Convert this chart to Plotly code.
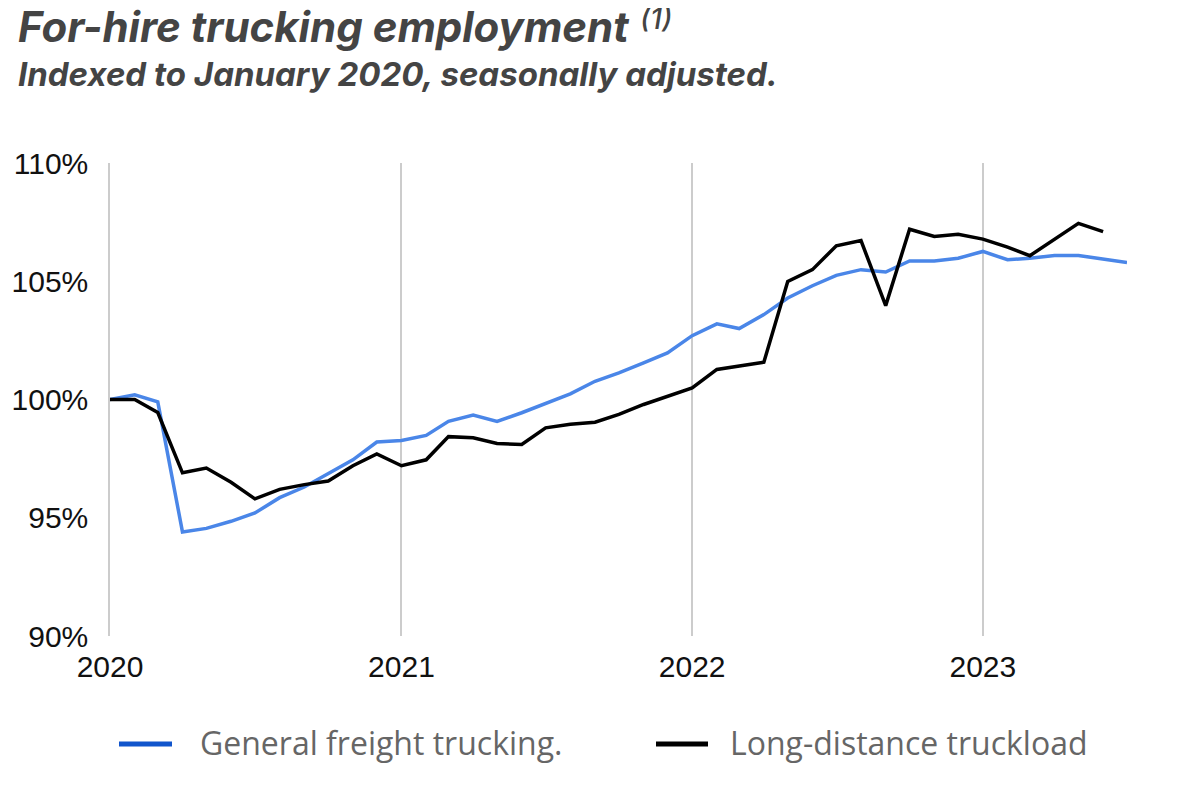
import pandas as pd
import plotly.graph_objects as go

# monthly index values, Jan 2020 = 100
general_freight = [100.0, 100.2, 99.9, 94.4, 94.55, 94.85, 95.2, 95.85, 96.3, 96.85, 97.45, 98.2,
                   98.27, 98.48, 99.08, 99.34, 99.07, 99.44, 99.83, 100.24, 100.77, 101.13, 101.55, 101.97,
                   102.7, 103.2, 103.0, 103.59, 104.29, 104.81, 105.25, 105.49, 105.39, 105.86, 105.86, 105.97,
                   106.26, 105.91, 105.97, 106.09, 106.09, 105.95, 105.79]
long_distance = [100.0, 100.0, 99.45, 96.9, 97.1, 96.5, 95.8, 96.2, 96.4, 96.55, 97.2, 97.7,
                 97.2, 97.45, 98.43, 98.38, 98.14, 98.1, 98.8, 98.95, 99.04, 99.37, 99.79, 100.14,
                 100.49, 101.27, 101.41, 101.58, 104.99, 105.49, 106.5, 106.72, 103.97, 107.2, 106.89, 106.99,
                 106.78, 106.44, 106.08, 106.78, 107.45, 107.1]

months_gf = pd.date_range("2020-01-01", periods=len(general_freight), freq="MS")
months_ld = pd.date_range("2020-01-01", periods=len(long_distance), freq="MS")

series_names = ["General freight trucking.", "Long-distance truckload"]
y_ticks = [90, 95, 100, 105, 110]

fig = go.Figure()
fig.add_trace(go.Scatter(x=months_gf, y=general_freight, mode="lines", name=series_names[0],
                         line=dict(color="#4a86e8", width=3.5), showlegend=False))
fig.add_trace(go.Scatter(x=months_ld, y=long_distance, mode="lines", name=series_names[1],
                         line=dict(color="#000000", width=3.5), showlegend=False))

tick_font = dict(family="Liberation Sans, Arial", size=30, color="#111")
fig.update_xaxes(range=["2020-01-01", "2023-07-01"], dtick="M12", tickformat="%Y",
                 tick0="2020-01-01", showgrid=True, gridcolor="#cccccc", gridwidth=1.5,
                 zeroline=False, showline=False, ticks="", ticklabelstandoff=10,
                 automargin=False, tickfont=tick_font)
fig.update_yaxes(range=[90, 110], tickvals=y_ticks, ticktext=[f"{v}%" for v in y_ticks],
                 showgrid=False, zeroline=False, showline=True, linecolor="#cccccc", linewidth=1.5,
                 ticks="", ticklabelstandoff=14, automargin=False, tickfont=tick_font)

# page body has an 8px margin, so positions below are shifted to compensate
W, H = 1017, 473   # plot area in px
L, B = 102, 628    # plot left / bottom in figure px


def px(x):
    return (x - 8 - L) / W


def py(y):
    return (B - (y - 8)) / H


# titles
title_font = dict(family="Inter", color="#444444", weight="bold", style="italic")
fig.add_annotation(text="For-hire trucking employment", xref="paper", yref="paper",
                   x=px(16), y=py(26), xanchor="left", yanchor="middle", showarrow=False,
                   font=dict(size=42, **title_font))
fig.add_annotation(text="(1)", xref="paper", yref="paper",
                   x=px(638), y=py(19), xanchor="left", yanchor="middle", showarrow=False,
                   font=dict(family="Inter", size=28, color="#444444", weight=500, style="italic"))
fig.add_annotation(text="Indexed to January 2020, seasonally adjusted.", xref="paper", yref="paper",
                   x=px(16), y=py(74), xanchor="left", yanchor="middle", showarrow=False,
                   font=dict(size=33, **title_font))

# hand-made legend
legend_cols = ["#1155cc", "#000000"]
legend_x = [(119, 172, 198), (656, 708, 728)]
for name, col, (x0, x1, xt) in zip(series_names, legend_cols, legend_x):
    fig.add_shape(type="line", xref="paper", yref="paper", x0=px(x0), x1=px(x1), y0=py(744), y1=py(744),
                  line=dict(color=col, width=5))
    fig.add_annotation(text=name, xref="paper", yref="paper", x=px(xt), y=py(742),
                       xanchor="left", yanchor="middle", showarrow=False,
                       font=dict(family="Open Sans", size=32, color="#666666"))

fig.update_layout(width=1200, height=787, plot_bgcolor="white", paper_bgcolor="white",
                  margin=dict(l=L, r=1200 - L - W, t=B - H, b=787 - B))

fig.write_html("out.html")
